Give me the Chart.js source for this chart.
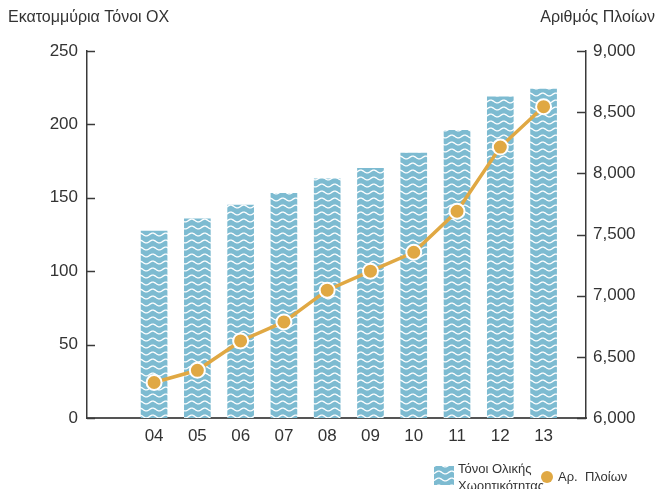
<!DOCTYPE html>
<html>
<head>
<meta charset="utf-8">
<script src="https://cdn.jsdelivr.net/npm/chart.js@4.4.1/dist/chart.umd.min.js"></script>
<style>
html,body{margin:0;padding:0;background:#fff;overflow:hidden;}
canvas{display:block;}
</style>
</head>
<body>
<canvas id="c" width="662" height="489"></canvas>
<script>
const categories = ['04','05','06','07','08','09','10','11','12','13'];
const tonnage = [127.4, 135.6, 145, 153, 163, 170, 180.5, 196, 218.7, 224];
const ships = [6290, 6390, 6630, 6785, 7045, 7200, 7355, 7690, 8215, 8545];
const leftTicks = [0, 50, 100, 150, 200, 250];
const rightTicks = [6000, 6500, 7000, 7500, 8000, 8500, 9000];
const leftTitle = 'Εκατομμύρια Τόνοι ΟΧ';
const rightTitle = 'Αριθμός Πλοίων';
const barLabel = ['Τόνοι Ολικής', 'Χωρητικότητας'];
const lineLabel = 'Αρ.  Πλοίων';

const FONT = "'Liberation Sans', Arial, sans-serif";
const BLUE = '#7dbbd1';
const GOLD = '#e0a843';
const AXIS = '#3a3a3a';

function wavePattern(ctx){
  const c = document.createElement('canvas');
  c.width = 13; c.height = 7;
  const g = c.getContext('2d');
  g.fillStyle = BLUE; g.fillRect(0,0,13,7);
  g.strokeStyle = '#ffffff'; g.lineWidth = 1.3;
  g.beginPath();
  for (let x = -1; x <= 14; x += 0.5){
    const y = 3.5 + 1.4*Math.sin(x/13*2*Math.PI);
    if (x === -1) g.moveTo(x,y); else g.lineTo(x,y);
  }
  g.stroke();
  return ctx.createPattern(c,'repeat');
}

const canvas = document.getElementById('c');
const ctx = canvas.getContext('2d');
const pattern = wavePattern(ctx);

const extras = {
  id: 'extras',
  afterDraw(chart){
    const g = chart.ctx;
    const a = chart.chartArea;
    const yl = chart.scales.y, yr = chart.scales.y1;
    g.save();
    // inward ticks
    g.strokeStyle = AXIS; g.lineWidth = 1.5;
    leftTicks.forEach(v => {
      const y = Math.round(yl.getPixelForValue(v)) + 0.5;
      g.beginPath(); g.moveTo(a.left, y); g.lineTo(a.left + 8, y); g.stroke();
    });
    rightTicks.forEach(v => {
      const y = Math.round(yr.getPixelForValue(v)) + 0.5;
      g.beginPath(); g.moveTo(a.right - 9, y); g.lineTo(a.right, y); g.stroke();
    });
    // titles
    g.fillStyle = '#333';
    g.font = "16px " + FONT;
    g.textBaseline = 'middle';
    g.textAlign = 'left';
    g.fillText(leftTitle, 8, 18);
    g.textAlign = 'right';
    g.fillText(rightTitle, 655, 18);
    // legend
    g.fillStyle = pattern;
    g.fillRect(434, 466, 20, 19);
    g.fillStyle = '#333';
    g.font = "13px " + FONT;
    g.textAlign = 'left';
    g.fillText(barLabel[0], 458, 469);
    g.fillText(barLabel[1], 458, 486);
    g.fillStyle = GOLD;
    g.beginPath(); g.arc(547, 477, 6, 0, Math.PI*2); g.fill();
    g.fillStyle = '#333';
    g.fillText(lineLabel, 558, 477);
    g.restore();
  }
};

new Chart(ctx, {
  data: {
    datasets: [
      {
        type: 'line',
        label: lineLabel,
        data: ships.map((v,i)=>({x:i, y:v})),
        yAxisID: 'y1',
        borderColor: GOLD,
        borderWidth: 3.5,
        pointRadius: 7.5,
        pointBackgroundColor: GOLD,
        pointBorderColor: '#ffffff',
        pointBorderWidth: 2,
        order: 0
      },
      {
        type: 'bar',
        label: barLabel.join(' '),
        data: tonnage.map((v,i)=>({x:i, y:v})),
        yAxisID: 'y',
        backgroundColor: pattern,
        barThickness: 26,
        order: 1
      }
    ]
  },
  options: {
    responsive: false,
    animation: false,
    layout: { padding: { top: 51, left: 0, right: 0, bottom: 0 } },
    plugins: { legend: { display: false }, tooltip: { enabled: false } },
    scales: {
      x: {
        type: 'linear',
        offset: false,
        min: -1.55, max: 9.98,
        grid: { display: false, drawTicks: false, offset: false },
        border: { display: true, color: '#555', width: 2 },
        afterBuildTicks: s => { s.ticks = categories.map((c,i)=>({value:i})); },
        afterFit: s => { s.height = 71; },
        ticks: {
          autoSkip: false,
          maxRotation: 0,
          padding: 8,
          color: '#333',
          font: { family: FONT, size: 17 },
          callback: v => categories[v]
        }
      },
      y: {
        position: 'left',
        min: 0, max: 250,
        grid: { display: false, drawTicks: false },
        border: { display: true, color: AXIS, width: 1.5 },
        afterBuildTicks: s => { s.ticks = leftTicks.map(v=>({value:v})); },
        afterFit: s => { s.width = 87; },
        ticks: { padding: 9, color: '#333', font: { family: FONT, size: 17 } }
      },
      y1: {
        position: 'right',
        min: 6000, max: 9000,
        grid: { display: false, drawTicks: false },
        border: { display: true, color: AXIS, width: 1.5 },
        afterBuildTicks: s => { s.ticks = rightTicks.map(v=>({value:v})); },
        afterFit: s => { s.width = 76; },
        ticks: { padding: 7, color: '#333', font: { family: FONT, size: 17 },
          callback: v => v.toLocaleString('en-US') }
      }
    }
  },
  plugins: [extras]
});
</script>
</body>
</html>
